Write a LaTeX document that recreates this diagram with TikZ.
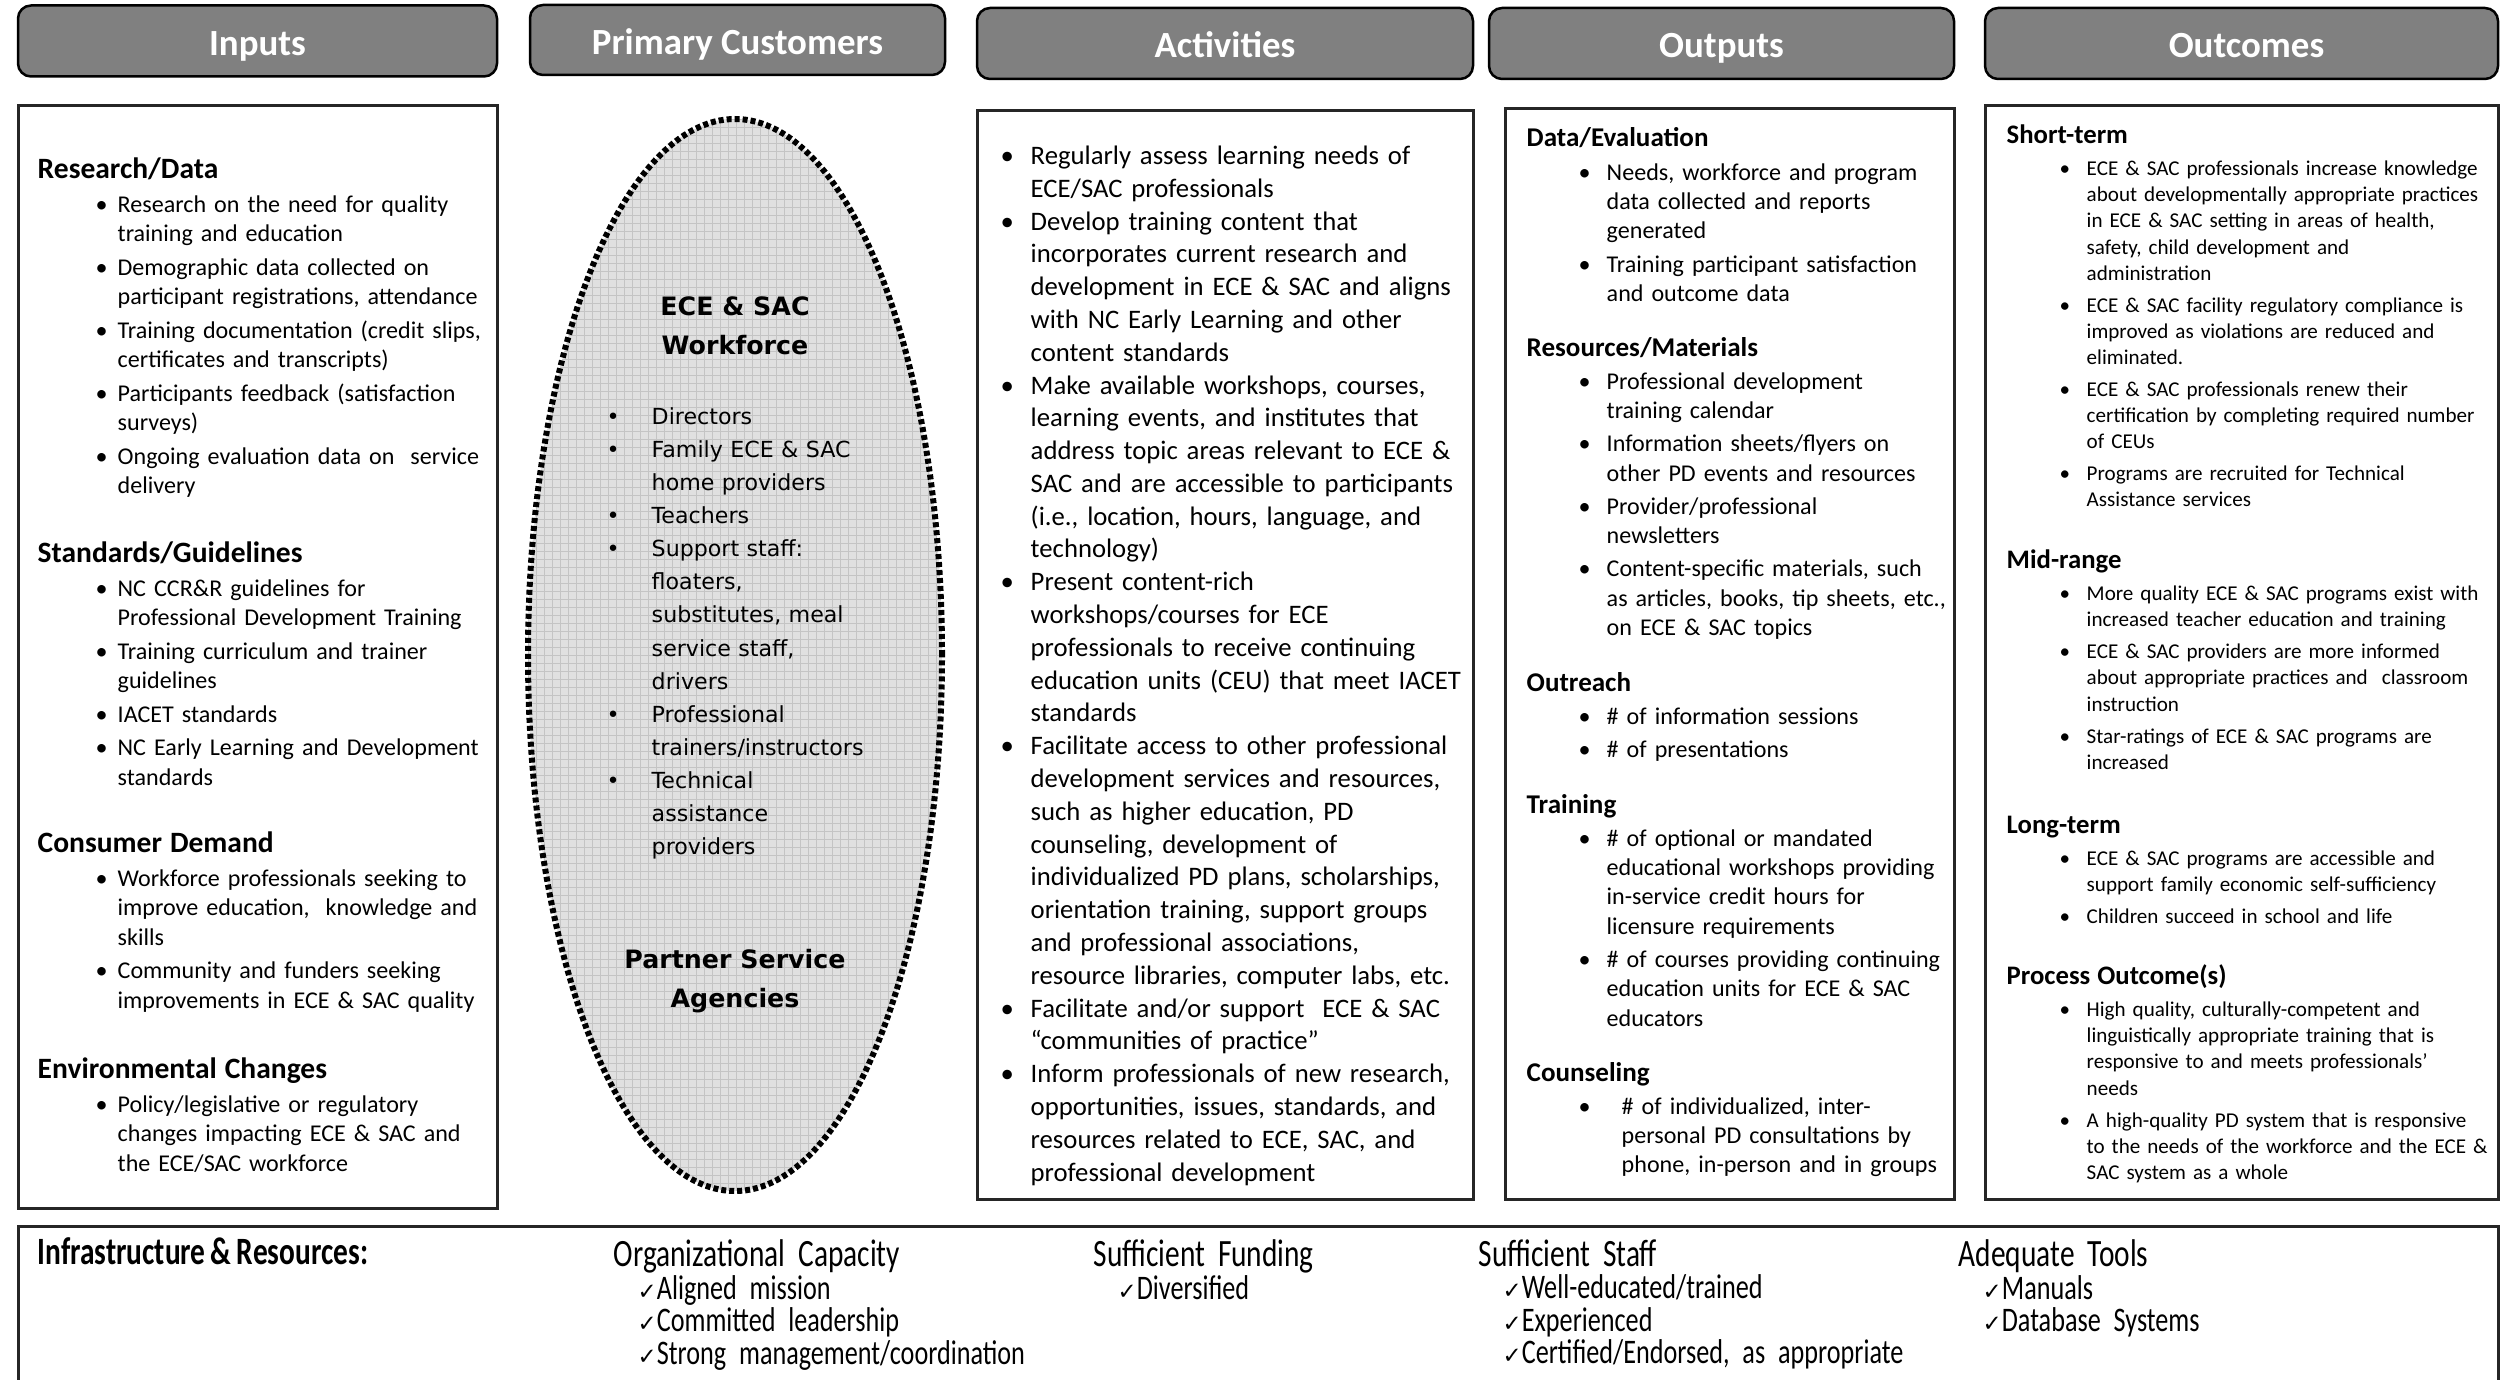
\documentclass[tikz,border=0pt]{standalone}
\usepackage{fontspec}
\setmainfont{Carlito}
\newfontfamily\wffont{DejaVu Sans}
\newfontfamily\condfont[FakeStretch=0.76, WordSpace=0.8]{Carlito}
\newfontfamily\chkfont{DejaVu Sans}
\usetikzlibrary{positioning}
\definecolor{hdrgray}{HTML}{808080}
\definecolor{gridfill}{HTML}{E0E0E0}
\definecolor{gridline}{HTML}{C4C4C4}
\newlength\buind
\newlength\itind
\newcommand\hdfont{\bfseries}
\newcommand\hd[1]{{\hdfont\vrule height .75em depth 0pt width 0pt #1}\par}
\newcommand\bi[1]{\par\noindent\hangindent=\itind\hangafter=1\hbox to\itind{\hskip\buind\textbullet\hfil}\strut{\let\\\newline #1}\par}
\newcommand\chk{\hspace*{2.4mm}{\chkfont\fontsize{6.5}{6.5}\selectfont ✓}\fontsize{9.8}{9.25}\selectfont}
\newcommand\ttl{\vrule height 7pt depth 0pt width 0pt}
\tikzset{
  hdrbox/.style={draw=black, line width=0.25mm, fill=hdrgray, rounded corners=1.3mm, text=white, inner sep=0pt, minimum height=7.1mm, text height=8.8pt, text depth=0.8pt, font=\fontsize{10.5}{12}\selectfont\bfseries},
  colbox/.style={draw=black!85, line width=0.3mm},
  txtcol/.style={anchor=north west, inner sep=0pt, align=left, text width=#1},
  incol/.style={txtcol=60mm, font=\fontsize{6.85}{8.35}\selectfont, execute at begin node={\setlength\parskip{1.2pt}\setlength\buind{5.8mm}\setlength\itind{8mm}\renewcommand\hdfont{\fontsize{8.4}{10.2}\selectfont\bfseries}}},
  accol/.style={txtcol=60mm, font=\fontsize{7.6}{9.33}\selectfont, execute at begin node={\setlength\parskip{0pt}\setlength\buind{0.5mm}\setlength\itind{3.5mm}}},
  oucol/.style={txtcol=60mm, font=\fontsize{6.85}{8.35}\selectfont, execute at begin node={\setlength\parskip{1.1pt}\setlength\buind{5.2mm}\setlength\itind{8mm}\renewcommand\hdfont{\fontsize{7.7}{9.4}\selectfont\bfseries}}},
  occol/.style={txtcol=60mm, font=\fontsize{6.0}{7.42}\selectfont, execute at begin node={\setlength\parskip{1.7pt}\setlength\buind{5.3mm}\setlength\itind{8mm}\renewcommand\hdfont{\fontsize{7.6}{9.3}\selectfont\bfseries}}},
  wfcol/.style={txtcol=40mm, font={\wffont\fontsize{6.3}{9.4}\selectfont}, execute at begin node={\setlength\parskip{0pt}\setlength\buind{0.6mm}\setlength\itind{5.1mm}}},
  wfhead/.style={inner sep=0pt, align=center, font={\wffont\bfseries\fontsize{7.2}{11}\selectfont}},
  grp/.style={txtcol=60mm, font={\condfont\fontsize{11}{9.25}\selectfont}, execute at begin node={\lineskiplimit=-20pt\normallineskiplimit=-20pt\setlength\parskip{0pt}}}
}
\begin{document}
\lineskiplimit=-20pt
\normallineskiplimit=-20pt
\begin{tikzpicture}[x=0.1mm, y=-0.1mm]
  \useasboundingbox (0,0) rectangle (2516,1379);
  %%%%% HEADERS %%%%%
  \node[hdrbox, minimum width=47.9mm] (hin) at (257.5,41) {Inputs};
  \node[hdrbox, minimum width=41.5mm, minimum height=7.0mm] (hpc) at (737.5,40) {Primary Customers};
  \node[hdrbox, minimum width=49.6mm] (hac) at (1225,43.5) {Activities};
  \node[hdrbox, minimum width=46.5mm] (hou) at (1721.5,43.5) {Outputs};
  \node[hdrbox, minimum width=51.3mm] (hoc) at (2241.5,43.5) {\hspace*{1mm}Outcomes};

  %%%%% COLUMN BOXES %%%%%
  \draw[colbox] (18,106) rectangle (497,1208);
  \draw[colbox] (977,111) rectangle (1473,1199);
  \draw[colbox] (1505,109) rectangle (1954,1199);
  \draw[colbox] (1985,106) rectangle (2498,1199);
  \draw[colbox] (18,1400) -- (18,1226) -- (2498,1226) -- (2498,1400);

  %%%%% ELLIPSE %%%%%
  \begin{scope}
    \clip (735,655) ellipse [x radius=20.7mm, y radius=53.6mm];
    \fill[gridfill] (520,110) rectangle (950,1200);
    \draw[gridline, line width=0.1mm, step=0.8mm] (520,110) grid (950,1200);
  \end{scope}
  \draw[line width=0.6mm, dash pattern=on 0.5mm off 0.3mm] (735,655) ellipse [x radius=20.7mm, y radius=53.6mm];

  %%%%% INPUTS %%%%%
  \node[incol] (rd) at (37,156) {\hd{Research/Data}
    \bi{Research on the need for quality\\training and education}
    \bi{Demographic data collected on\\participant registrations, attendance}
    \bi{Training documentation (credit slips,\\certificates and transcripts)}
    \bi{Participants feedback (satisfaction\\surveys)}
    \bi{Ongoing evaluation data on~ service\\delivery}};
  \node[incol] (sg) at (37,540) {\hd{Standards/Guidelines}
    \bi{NC CCR\&R guidelines for\\Professional Development Training}
    \bi{Training curriculum and trainer\\guidelines}
    \bi{IACET standards}
    \bi{NC Early Learning and Development\\standards}};
  \node[incol] (cd) at (37,830) {\hd{Consumer Demand}
    \bi{Workforce professionals seeking to\\improve education,~ knowledge and\\skills}
    \bi{Community and funders seeking\\improvements in ECE \& SAC quality}};
  \node[incol] (ec) at (37,1056) {\hd{Environmental Changes}
    \bi{Policy/legislative or regulatory\\changes impacting ECE \& SAC and\\the ECE/SAC workforce}};

  %%%%% PRIMARY CUSTOMERS %%%%%
  \node[wfhead] (wfh) at (735,326) {ECE \& SAC\\Workforce};
  \node[wfcol] (wfl) at (600,391) {\bi{Directors}
    \bi{Family ECE \& SAC\\home providers}
    \bi{Teachers}
    \bi{Support staff:\\floaters,\\substitutes, meal\\service staff,\\drivers}
    \bi{Professional\\trainers/instructors}
    \bi{Technical\\assistance\\providers}};
  \node[wfhead] (psa) at (735,981) {Partner Service\\Agencies};

  %%%%% ACTIVITIES %%%%%
  \node[accol] (act) at (995,131) {\bi{Regularly assess learning needs of\\ECE/SAC professionals}
    \bi{Develop training content that\\incorporates current research and\\development in ECE \& SAC and aligns\\with NC Early Learning and other\\content standards}
    \bi{Make available workshops, courses,\\learning events, and institutes that\\address topic areas relevant to ECE \&\\SAC and are accessible to participants\\(i.e., location, hours, language, and\\technology)}
    \bi{Present content-rich\\workshops/courses for ECE\\professionals to receive continuing\\education units (CEU) that meet IACET\\standards}
    \bi{Facilitate access to other professional\\development services and resources,\\such as higher education, PD\\counseling, development of\\individualized PD plans, scholarships,\\orientation training, support groups\\and professional associations,\\resource libraries, computer labs, etc.}
    \bi{Facilitate and/or support~ ECE \& SAC\\“communities of practice”}
    \bi{Inform professionals of new research,\\opportunities, issues, standards, and\\resources related to ECE, SAC, and\\professional development}};

  %%%%% OUTPUTS %%%%%
  \node[oucol] (de) at (1526,126) {\hd{Data/Evaluation}
    \bi{Needs, workforce and program\\data collected and reports\\generated}
    \bi{Training participant satisfaction\\and outcome data}};
  \node[oucol] (rm) at (1526,335) {\hd{Resources/Materials}
    \bi{Professional development\\training calendar}
    \bi{Information sheets/flyers on\\other PD events and resources}
    \bi{Provider/professional\\newsletters}
    \bi{Content-specific materials, such\\as articles, books, tip sheets, etc.,\\on ECE \& SAC topics}};
  \node[oucol] (or) at (1526,670) {\hd{Outreach}
    \bi{\# of information sessions}
    \bi{\# of presentations}};
  \node[oucol] (tr) at (1526,792) {\hd{Training}
    \bi{\# of optional or mandated\\educational workshops providing\\in-service credit hours for\\licensure requirements}
    \bi{\# of courses providing continuing\\education units for ECE \& SAC\\educators}};
  \node[oucol] (co) at (1526,1060) {\hd{Counseling}\setlength\itind{9.5mm}
    \bi{\# of individualized, inter-\\personal PD consultations by\\phone, in-person and in groups}};

  %%%%% OUTCOMES %%%%%
  \node[occol] (st) at (2006,123) {\hd{Short-term}
    \bi{ECE \& SAC professionals increase knowledge\\about developmentally appropriate practices\\in ECE \& SAC setting in areas of health,\\safety, child development and\\administration}
    \bi{ECE \& SAC facility regulatory compliance is\\improved as violations are reduced and\\eliminated.}
    \bi{ECE \& SAC professionals renew their\\certification by completing required number\\of CEUs}
    \bi{Programs are recruited for Technical\\Assistance services}};
  \node[occol] (mr) at (2006,548) {\hd{Mid-range}
    \bi{More quality ECE \& SAC programs exist with\\increased teacher education and training}
    \bi{ECE \& SAC providers are more informed\\about appropriate practices and~ classroom\\instruction}
    \bi{Star-ratings of ECE \& SAC programs are\\increased}};
  \node[occol] (lt) at (2006,813) {\hd{Long-term}
    \bi{ECE \& SAC programs are accessible and\\support family economic self-sufficiency}
    \bi{Children succeed in school and life}};
  \node[occol] (po) at (2006,964) {\hd{Process Outcome(s)}
    \bi{High quality, culturally-competent and\\linguistically appropriate training that is\\responsive to and meets professionals’\\needs}
    \bi{A high-quality PD system that is responsive\\to the needs of the workforce and the ECE \&\\SAC system as a whole}};

  %%%%% INFRASTRUCTURE %%%%%
  \node[anchor=base west, inner sep=0pt, font={\condfont\bfseries\fontsize{11}{9.4}\selectfont}] (infra) at (37,1264) {Infrastructure \& Resources:};
  \node[grp] (orgcap) at (613,1239) {\ttl Organizational Capacity\\\chk Aligned mission\\\chk Committed leadership\\\chk Strong management/coordination};
  \node[grp] (fund) at (1093,1239) {\ttl Sufficient Funding\\\chk Diversified};
  \node[grp] (staff) at (1478,1239) {\ttl Sufficient Staff\\\chk Well-educated/trained\\\chk Experienced\\\chk Certified/Endorsed, as appropriate};
  \node[grp] (tools) at (1958,1239) {\ttl Adequate Tools\\\chk Manuals\\\chk Database Systems};
\end{tikzpicture}
\end{document}
